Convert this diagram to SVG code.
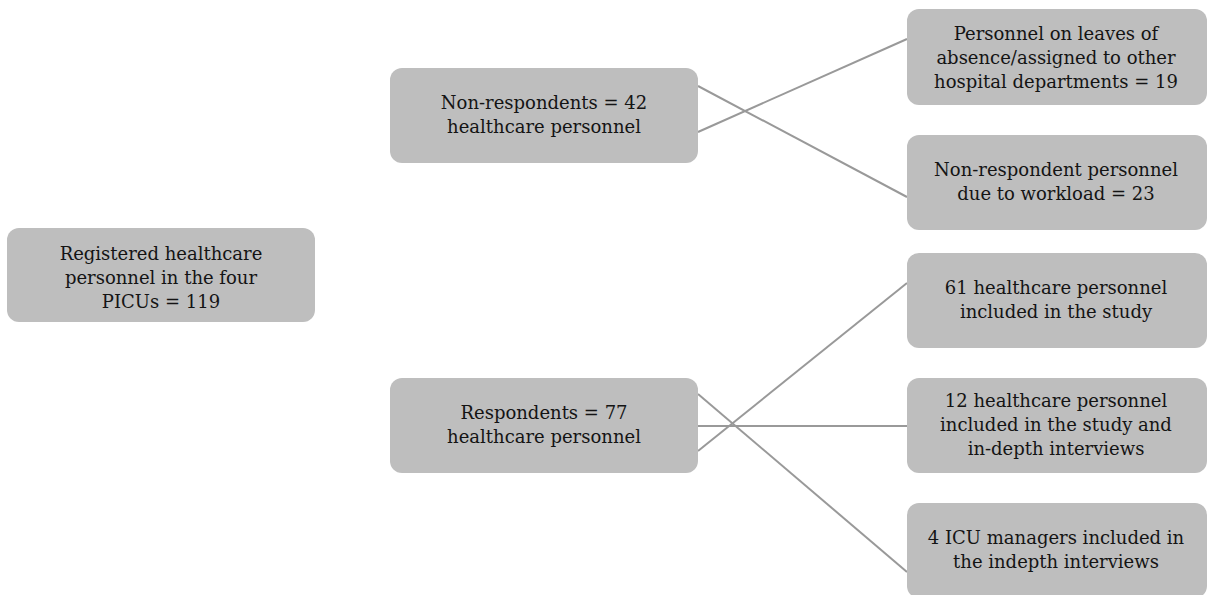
<svg xmlns="http://www.w3.org/2000/svg" width="1208" height="595" viewBox="0 0 1208 595">
<style>
.box{fill:#bebebe;}
.t{font-family:"DejaVu Serif","Liberation Serif",serif;font-size:18px;fill:#141414;text-anchor:middle;}
.c{stroke:#999999;stroke-width:2;fill:none;}
</style>
<rect width="1208" height="595" fill="#ffffff"/>
<g id="connectors">
<line class="c" x1="698" y1="86" x2="907" y2="197"/>
<line class="c" x1="698" y1="132" x2="907" y2="39"/>
<line class="c" x1="698" y1="394" x2="907" y2="572"/>
<line class="c" x1="698" y1="426" x2="907" y2="426"/>
<line class="c" x1="698" y1="451" x2="907" y2="283"/>
</g>
<g id="registered">
<rect class="box" x="7" y="228" width="308" height="94" rx="12"/>
<text class="t" x="161" y="260">Registered healthcare</text>
<text class="t" x="161" y="284">personnel in the four</text>
<text class="t" x="161" y="308">PICUs = 119</text>
</g>
<g id="nonrespondents">
<rect class="box" x="390" y="68" width="308" height="95" rx="12"/>
<text class="t" x="544" y="109">Non-respondents = 42</text>
<text class="t" x="544" y="133">healthcare personnel</text>
</g>
<g id="respondents">
<rect class="box" x="390" y="378" width="308" height="95" rx="12"/>
<text class="t" x="544" y="419">Respondents = 77</text>
<text class="t" x="544" y="443">healthcare personnel</text>
</g>
<g id="leaves">
<rect class="box" x="907" y="9" width="300" height="96" rx="12"/>
<text class="t" x="1056" y="40">Personnel on leaves of</text>
<text class="t" x="1056" y="64">absence/assigned to other</text>
<text class="t" x="1056" y="88">hospital departments = 19</text>
</g>
<g id="workload">
<rect class="box" x="907" y="135" width="300" height="95" rx="12"/>
<text class="t" x="1056" y="176">Non-respondent personnel</text>
<text class="t" x="1056" y="200">due to workload = 23</text>
</g>
<g id="included61">
<rect class="box" x="907" y="253" width="300" height="95" rx="12"/>
<text class="t" x="1056" y="294">61 healthcare personnel</text>
<text class="t" x="1056" y="318">included in the study</text>
</g>
<g id="included12">
<rect class="box" x="907" y="378" width="300" height="95" rx="12"/>
<text class="t" x="1056" y="407">12 healthcare personnel</text>
<text class="t" x="1056" y="431">included in the study and</text>
<text class="t" x="1056" y="455">in-depth interviews</text>
</g>
<g id="managers">
<rect class="box" x="907" y="503" width="300" height="95" rx="12"/>
<text class="t" x="1056" y="544">4 ICU managers included in</text>
<text class="t" x="1056" y="568">the indepth interviews</text>
</g>
</svg>
